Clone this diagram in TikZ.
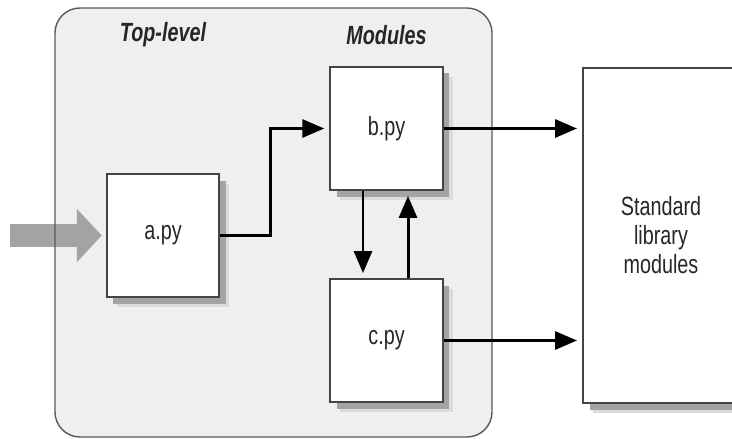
\documentclass[tikz,border=0pt]{standalone}
\usepackage{fontspec}
\setmainfont{Liberation Sans}[FakeStretch=0.75]
\usetikzlibrary{positioning,arrows.meta,shadows}
\definecolor{panel}{HTML}{EFEFEF}
\definecolor{edge}{HTML}{444444}
\definecolor{feed}{HTML}{A3A3A3}

\tikzset{
  file/.style={draw=edge, line width=1.1pt, fill=white, inner sep=0pt,
    minimum width=2.25cm, minimum height=2.46cm, text=black!85,
    drop shadow={shadow xshift=0.2cm, shadow yshift=-0.2cm, fill=black!14, opacity=1},
    drop shadow={shadow xshift=0.13cm, shadow yshift=-0.13cm, fill=black!36, opacity=1}},
  group/.style={font=\fontsize{15}{16.5}\selectfont\bfseries\itshape, text=black!85},
  link/.style={->, line width=1.7pt, shorten >=0.1cm},
}

\begin{document}
\begin{tikzpicture}[node distance=2cm, on grid,
    font=\fontsize{15}{16.5}\selectfont,
    >={Triangle[length=0.44cm,width=0.36cm]}]
   \useasboundingbox (0,0) rectangle (14.64,-8.78);
   % the grey panel round the program
   \coordinate (panel_nw) at (1.10,-0.16);
   \coordinate (panel_se) at (9.84,-8.74);
   \fill[panel, rounded corners=0.5cm] (panel_nw) rectangle (panel_se);

   \node[file] (a_py) at (3.26,-4.71) {a.py};
   \node[file] (b_py) [above right=2.14cm and 4.47cm of a_py] {b.py};
   \node[file] (c_py) [below=4.24cm of b_py] {c.py};
   \node[file, minimum width=3.12cm, minimum height=6.70cm, align=center]
        (std) [right=9.96cm of a_py] {Standard\\library\\modules};
   \node[group] (top_lbl) [above=4.01cm of a_py] {Top-level};
   \node[group] (mod_lbl) [above=1.87cm of b_py] {Modules};

   % program start
   \coordinate (start) at (0.20,-4.71);
   \draw[feed, line width=0.46cm, shorten >=0.08cm,
         -{Triangle[length=0.5cm,width=1.04cm]}] (start) -- (a_py.west);
   \draw[draw=black!65, line width=0.8pt, rounded corners=0.5cm]
        (panel_nw) rectangle (panel_se);

   \draw[link] (a_py.east) -- ++(1.0cm,0) |- (b_py.west);
   \draw[link] (b_py.east) -- (b_py.east -| std.west);
   \draw[link] (c_py.east) -- (c_py.east -| std.west);
   \draw[link] ([xshift=-0.47cm]b_py.south) -- ([xshift=-0.47cm]c_py.north);
   \draw[link] ([xshift=0.43cm]c_py.north) -- ([xshift=0.43cm]b_py.south);

\end{tikzpicture}
\end{document}
